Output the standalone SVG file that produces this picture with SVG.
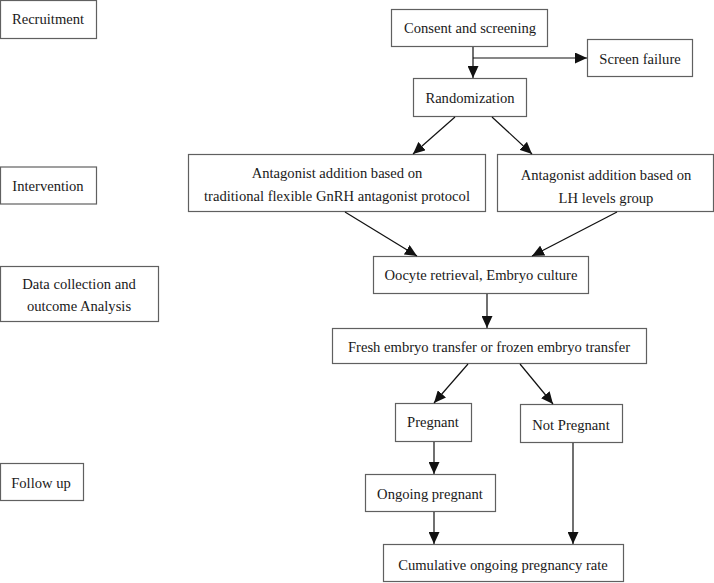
<svg xmlns="http://www.w3.org/2000/svg" width="714" height="583" viewBox="0 0 714 583">
<style>
.box{fill:#fff;stroke:#606060;stroke-width:1.2}
.t{font-family:"Liberation Serif","Times New Roman",serif;font-size:14.6px;fill:#1a1a1a;text-anchor:middle;dominant-baseline:central}
.c{stroke:#111;stroke-width:1.2;fill:none;marker-end:url(#ah)}
</style>
<defs>
<marker id="ah" markerUnits="userSpaceOnUse" markerWidth="12" markerHeight="11" viewBox="0 0 12 11" refX="12" refY="5.5" orient="auto">
<path d="M0,0 L12,5.5 L0,11 Z" fill="#111"/>
</marker>
</defs>
<rect width="714" height="583" fill="#fff"/>
<g id="recruitment"><rect class="box" x="0.5" y="0.5" width="96" height="38"/><text class="t" x="48" y="19">Recruitment</text></g>
<g id="intervention"><rect class="box" x="0.5" y="167" width="96" height="37"/><text class="t" x="48" y="186">Intervention</text></g>
<g id="data"><rect class="box" x="0.5" y="266.5" width="158" height="55"/><text class="t" x="79" y="284">Data collection and</text><text class="t" x="79" y="306">outcome Analysis</text></g>
<g id="followup"><rect class="box" x="0.5" y="463.5" width="83" height="37"/><text class="t" x="41" y="483">Follow up</text></g>
<g id="consent"><rect class="box" x="391.5" y="9.5" width="156" height="37"/><text class="t" x="470" y="28">Consent and screening</text></g>
<g id="screenfail"><rect class="box" x="587.5" y="39.5" width="105" height="37"/><text class="t" x="640" y="59">Screen failure</text></g>
<g id="randomization"><rect class="box" x="413.5" y="78.5" width="113" height="38"/><text class="t" x="470" y="98">Randomization</text></g>
<g id="armA"><rect class="box" x="188.5" y="154.5" width="297" height="57"/><text class="t" x="337" y="173">Antagonist addition based on</text><text class="t" x="337" y="196">traditional flexible GnRH antagonist protocol</text></g>
<g id="armB"><rect class="box" x="497.5" y="154.5" width="216" height="57"/><text class="t" x="606" y="175">Antagonist addition based on</text><text class="t" x="606" y="198">LH levels group</text></g>
<g id="oocyte"><rect class="box" x="373.5" y="256.5" width="215" height="37"/><text class="t" x="481" y="275">Oocyte retrieval, Embryo culture</text></g>
<g id="transfer"><rect class="box" x="332.5" y="328.5" width="314" height="35"/><text class="t" x="489" y="347">Fresh embryo transfer or frozen embryo transfer</text></g>
<g id="pregnant"><rect class="box" x="395.5" y="403.5" width="76" height="38"/><text class="t" x="433" y="422">Pregnant</text></g>
<g id="notpregnant"><rect class="box" x="520.5" y="404.5" width="102" height="38"/><text class="t" x="571" y="425">Not Pregnant</text></g>
<g id="ongoing"><rect class="box" x="365.5" y="474.5" width="130" height="37"/><text class="t" x="430" y="494">Ongoing pregnant</text></g>
<g id="cumulative"><rect class="box" x="383.5" y="544.5" width="240" height="37"/><text class="t" x="503" y="565">Cumulative ongoing pregnancy rate</text></g>
<g id="connectors">
<line class="c" x1="473" y1="47" x2="473" y2="78"/>
<line class="c" x1="473" y1="58" x2="587" y2="58"/>
<line class="c" x1="455" y1="117" x2="413" y2="154"/>
<line class="c" x1="492" y1="117" x2="532" y2="154"/>
<line class="c" x1="345" y1="212" x2="417" y2="256"/>
<line class="c" x1="617" y1="212" x2="532" y2="256"/>
<line class="c" x1="487" y1="294" x2="487" y2="328"/>
<line class="c" x1="468" y1="364" x2="434" y2="403"/>
<line class="c" x1="520" y1="364" x2="553" y2="404"/>
<line class="c" x1="434" y1="442" x2="434" y2="474"/>
<line class="c" x1="434" y1="512" x2="434" y2="544"/>
<line class="c" x1="573" y1="443" x2="573" y2="544"/>
</g>
</svg>
